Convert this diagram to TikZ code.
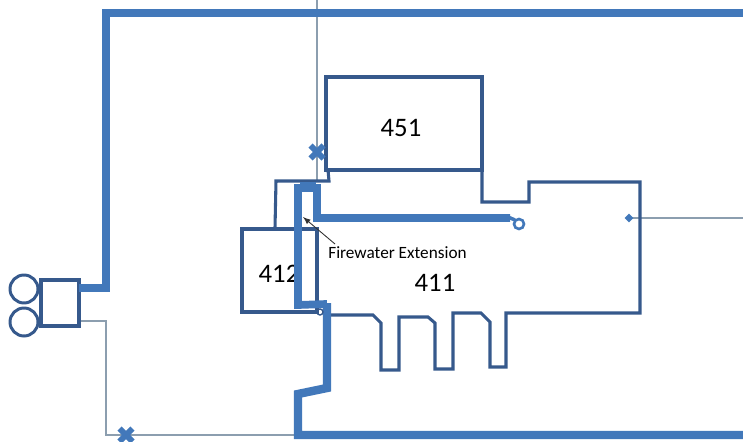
\documentclass[tikz,border=0pt]{standalone}
\usepackage{fontspec}
\setmainfont{Carlito}
\usetikzlibrary{shapes.geometric}
\definecolor{wallblue}{RGB}{54,89,140}
\definecolor{pipeblue}{RGB}{66,120,186}
\definecolor{thinpipe}{RGB}{140,158,175}
\tikzset{
  wall/.style={draw=wallblue, line width=1.75pt, line join=miter},
  mainpipe/.style={draw=pipeblue, line width=4.8pt, line join=miter},
  extpipe/.style={draw=pipeblue, line width=4.4pt, line join=miter},
  branch/.style={draw=thinpipe, line width=0.7pt},
  valve/.style={draw=pipeblue, line width=3.4pt},
  areanum/.style={font=\fontsize{15.2}{17}\selectfont, inner sep=0pt}
}
\begin{document}
\begin{tikzpicture}[x=0.02cm, y=-0.02cm]
  \useasboundingbox (0, 0) rectangle (743, 442);
  % thin branches
  \draw[branch] (317, 0) -- (317, 181);
  \draw[branch] (79, 321) -- (106, 321) -- (106, 435) -- (298, 435);
  \draw[branch] (629, 218) -- (743, 218);
  % pumps
  \node[circle, draw=wallblue, line width=1.7pt, minimum size=0.56cm, inner sep=0pt] (pumpa) at (24, 289) {};
  \node[circle, draw=wallblue, line width=1.7pt, minimum size=0.56cm, inner sep=0pt] (pumpb) at (24, 322) {};
  \draw[wall] (41, 280) -- (79, 280) -- (79, 326) -- (41, 326) -- cycle;
  % building outline
  \draw[wall] (326, 77) -- (482, 77) -- (482, 170) -- (326, 170) -- cycle;
  \draw[wall] (242, 229) -- (317, 229) -- (317, 312) -- (242, 312) -- cycle;
  \draw[wall] (275, 228) -- (276, 181) -- (329, 181) -- (328, 170);
  \draw[wall] (482, 170) -- (482, 202) -- (529, 202) -- (529, 182) -- (640, 182) -- (640, 313) -- (506, 313) -- (506, 367) -- (490, 367) -- (490, 322) -- (481, 313) -- (453, 313) -- (453, 369) -- (435, 369) -- (435, 323) -- (428, 317) -- (399, 317) -- (399, 370) -- (381, 370) -- (381, 323) -- (373, 315) -- (331, 315);
  % labels
  \node[areanum] (area451) at (401, 128) {451};
  \node[areanum] (area412) at (279, 274) {412};
  \node[areanum] (area411) at (435, 283) {411};
  \node[font=\fontsize{9.8}{11}\selectfont, inner sep=0pt] (extlabel) at (397.5, 253) {Firewater Extension};
  % pipes
  \draw[mainpipe] (79, 288) -- (106, 288) -- (106, 13) -- (743, 13);
  \draw[mainpipe] (327, 303) -- (327, 388) -- (298, 394) -- (298, 435) -- (743, 435);
  \draw[extpipe] (327, 304) -- (298, 305) -- (298, 188) -- (317, 188) -- (317, 218) -- (510, 218);
  \draw[extpipe] (300, 186) -- (316, 186);
  \draw[draw=pipeblue, line width=1.5pt] (519, 224) circle (5);
  \draw[extpipe, line width=2pt] (508, 217) -- (515, 220);
  \draw[draw=wallblue, line width=0.8pt] (320, 312) circle (3);
  \node[diamond, fill=pipeblue, minimum size=0.18cm, inner sep=0pt] (tap) at (629, 218) {};
  % valves
  \foreach \vx/\vy in {317/152, 126/435} {
    \draw[valve] (\vx-6.5, \vy-6.5) -- (\vx+6.5, \vy+6.5);
    \draw[valve] (\vx-6.5, \vy+6.5) -- (\vx+6.5, \vy-6.5);
  }
  % arrow to extension
  \coordinate (exttip) at (303, 217);
  \draw[-latex, black!80, line width=0.5pt] (335, 244) -- (exttip);
\end{tikzpicture}
\end{document}
